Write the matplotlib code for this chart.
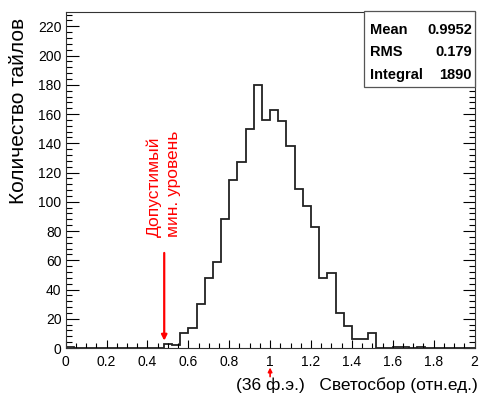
import matplotlib
matplotlib.use("Agg")
import matplotlib.pyplot as plt
import numpy as np
from matplotlib.ticker import MultipleLocator

plt.rcParams['font.family'] = ['Liberation Sans', 'DejaVu Sans']

# Light-collection histogram: 50 bins of width 0.04 over [0, 2]
bin_edges = np.linspace(0.0, 2.0, 51)
counts = [1, 0, 0, 0, 0, 0, 0, 0, 0, 0,
          0, 0, 3, 2, 10, 14, 30, 48, 59, 88,
          115, 127, 150, 180, 156, 163, 155, 138, 109, 97,
          83, 48, 51, 24, 15, 6, 6, 10, 0, 0,
          1, 1, 0, 1, 0, 0, 0, 0, 0, 0]

stat_names = ["Mean", "RMS", "Integral"]
stat_values = ["0.9952", "0.179", "1890"]

x_label = "(36 ф.э.)   Светосбор (отн.ед.)"
y_label = "Количество тайлов"
threshold_label = "Допустимый\nмин. уровень"
threshold_x = 0.482

W, H = 479, 394
fig = plt.figure(figsize=(W / 100, H / 100), dpi=100)
ax = fig.add_axes([65.7 / W, 1 - 348 / H, (474.5 - 65.7) / W, (348 - 11.7) / H])

ax.stairs(counts, bin_edges, color='#222222', linewidth=1.3)

ax.set_xlim(0, 2)
ax.set_ylim(0, 230)
ax.xaxis.set_major_locator(MultipleLocator(0.2))
ax.xaxis.set_minor_locator(MultipleLocator(0.05))
ax.yaxis.set_major_locator(MultipleLocator(20))
ax.yaxis.set_minor_locator(MultipleLocator(4))
ax.xaxis.set_major_formatter(plt.FuncFormatter(lambda v, p: f"{v:g}"))

ax.tick_params(axis='x', which='major', direction='in', length=6, width=0.8,
               labelsize=10, pad=5, top=False)
ax.tick_params(axis='x', which='minor', direction='in', length=3.5, width=0.8, top=False)
ax.tick_params(axis='y', which='major', direction='in', length=9, width=0.8,
               labelsize=10, pad=3, right=True)
ax.tick_params(axis='y', which='minor', direction='in', length=4.5, width=0.8, right=True)
for s in ax.spines.values():
    s.set_linewidth(0.8)
    s.set_color('#333333')

ax.set_xlabel(x_label, fontsize=12.5, ha='right', va='center')
ax.xaxis.set_label_coords(478 / W, 1 - 385 / H, transform=fig.transFigure)
ax.set_ylabel(y_label, fontsize=15, ha='right', va='center')
ax.yaxis.set_label_coords(18.5 / W, 1 - 18 / H, transform=fig.transFigure)

# threshold marker with vertical label
ax.annotate('', xy=(threshold_x, 5), xytext=(threshold_x, 65),
            arrowprops=dict(arrowstyle='-|>', color='red', lw=1.6,
                            mutation_scale=8, shrinkA=0, shrinkB=0))
ax.text(threshold_x - 0.002, 76, threshold_label, rotation=90, color='red',
        fontsize=12.5, ha='center', va='bottom', multialignment='left',
        linespacing=1.35)

# small marker under x = 1
ax.annotate('', xy=(1.0, -0.058), xytext=(1.0, -0.085),
            xycoords=('data', 'axes fraction'), textcoords=('data', 'axes fraction'),
            arrowprops=dict(arrowstyle='-|>', color='red', lw=1.2,
                            mutation_scale=6, shrinkA=0, shrinkB=0),
            annotation_clip=False)

# statistics box
bx0, by0, bx1, by1 = 364, 11, 475, 87
fig.patches.append(plt.Rectangle((bx0 / W, 1 - by1 / H), (bx1 - bx0) / W, (by1 - by0) / H,
                                 transform=fig.transFigure, facecolor='white',
                                 edgecolor='#555555', linewidth=0.9, zorder=5))
rows_y = [29.5, 52, 75]
for name, val, yy in zip(stat_names, stat_values, rows_y):
    fig.text(370 / W, 1 - yy / H, name, fontsize=10.5, fontweight='bold',
             ha='left', va='center', zorder=6)
    fig.text(472 / W, 1 - yy / H, val, fontsize=10.5, fontweight='bold',
             ha='right', va='center', zorder=6)

fig.savefig("out.png", dpi=100)
